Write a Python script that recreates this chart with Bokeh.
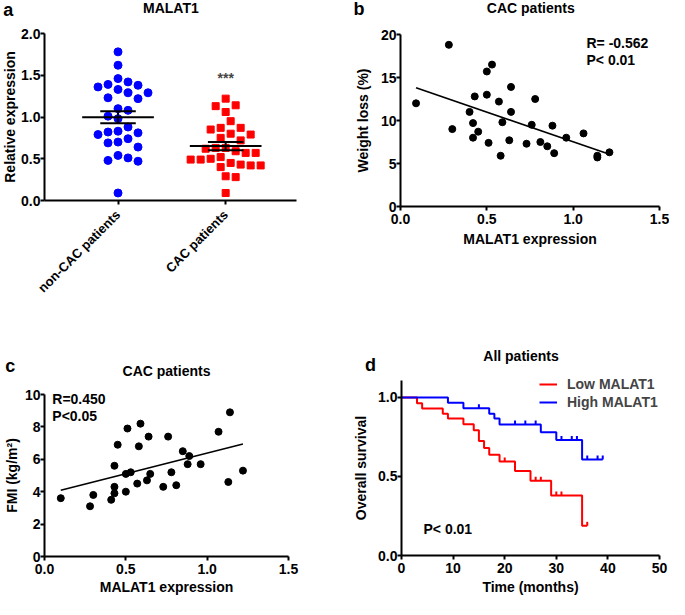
import numpy as np
from bokeh.plotting import figure
from bokeh.models import Range1d, FixedTicker, NumeralTickFormatter, Label, Legend, LegendItem
from bokeh.layouts import row, column
from bokeh.embed import file_html
from bokeh.resources import INLINE

FONT = "Liberation Sans"

# ---------------- data ----------------
groups = ["non-CAC patients", "CAC patients"]
non_cac_expr = [1.78, 1.62, 1.46, 1.42, 1.39, 1.38, 1.36, 1.33, 1.29, 1.29, 1.23, 1.22, 1.10, 1.08, 1.01,
                0.98, 0.88, 0.83, 0.82, 0.81, 0.79, 0.74, 0.70, 0.69, 0.64, 0.54, 0.51, 0.48, 0.47, 0.09]
cac_expr = [1.22, 1.14, 1.13, 1.06, 0.95, 0.87, 0.87, 0.85, 0.80, 0.79, 0.75, 0.72, 0.63, 0.63, 0.62,
            0.59, 0.57, 0.57, 0.52, 0.50, 0.49, 0.49, 0.45, 0.43, 0.42, 0.42, 0.40, 0.29, 0.28, 0.09]

b_expr = [0.09, 0.28, 0.30, 0.40, 0.43, 0.42, 0.42, 0.45, 0.50, 0.53, 0.50, 0.51, 0.57, 0.59, 0.58,
          0.64, 0.64, 0.63, 0.73, 0.76, 0.78, 0.81, 0.85, 0.88, 0.89, 0.96, 1.06, 1.14, 1.14, 1.21]
b_weight_loss = [12.0, 18.8, 9.0, 11.0, 12.8, 9.7, 8.0, 8.7, 15.7, 16.5, 13.0, 7.4, 12.2, 9.8, 5.9,
                 11.0, 13.9, 7.7, 7.3, 9.5, 12.5, 7.5, 7.0, 9.4, 6.2, 8.0, 8.5, 5.7, 5.9, 6.3]

c_expr = [0.10, 0.28, 0.30, 0.41, 0.43, 0.43, 0.43, 0.45, 0.50, 0.50, 0.51, 0.53, 0.57, 0.58, 0.59,
          0.63, 0.64, 0.65, 0.73, 0.76, 0.78, 0.81, 0.85, 0.88, 0.89, 0.96, 1.07, 1.13, 1.14, 1.22]
c_fmi = [3.6, 3.1, 3.8, 3.5, 4.3, 3.9, 5.6, 6.9, 5.1, 4.0, 7.9, 5.2, 4.5, 6.8, 8.2,
         4.7, 7.4, 5.1, 4.3, 7.4, 5.2, 4.4, 6.5, 5.7, 6.2, 5.7, 7.7, 4.6, 8.9, 5.3]

low_time = [0, 3, 4, 8, 9, 12, 14, 15, 16, 17, 19, 22, 25, 29, 35, 36]
low_surv = [1.0, 0.963, 0.930, 0.897, 0.866, 0.830, 0.793, 0.725, 0.680, 0.638, 0.595, 0.535, 0.473,
            0.380, 0.188, 0.188]
low_censor = [20, 26, 27, 30, 31, 36]
high_time = [0, 9, 12, 17, 18, 19, 27, 30, 35, 39]
high_surv = [1.0, 0.967, 0.932, 0.897, 0.866, 0.829, 0.780, 0.731, 0.607, 0.607]
high_censor = [15, 22, 24, 26, 31, 33, 34, 36, 38, 39]

BLUE = "#0000FF"
RED = "#FF0000"
FS = "14px"


# ---------------- helpers ----------------
def make_fig(w, h, left, right, top, bottom, xr, yr):
    """Frame covers the whole canvas; axes are pinned at the data origin
    (fixed_location) and bounded to the data range."""
    fw = w - left - right
    fh = h - top - bottom
    ux = (xr[1] - xr[0]) / fw
    uy = (yr[1] - yr[0]) / fh
    X = (xr[0] - left * ux, xr[1] + right * ux)
    Y = (yr[0] - bottom * uy, yr[1] + top * uy)
    p = figure(width=w, height=h, x_range=Range1d(*X), y_range=Range1d(*Y),
               output_backend="svg", toolbar_location=None, title=None,
               min_border=0, min_border_left=0, min_border_right=0,
               min_border_top=0, min_border_bottom=0)
    p.outline_line_color = None
    p.grid.visible = False
    p.background_fill_color = "white"
    p.border_fill_color = "white"
    p.xaxis.fixed_location = yr[0]
    p.xaxis.bounds = xr
    p.yaxis.fixed_location = xr[0]
    p.yaxis.bounds = yr
    for ax in p.axis:
        ax.axis_line_width = 2
        ax.axis_line_color = "black"
        ax.major_tick_line_width = 2
        ax.major_tick_line_color = "black"
        ax.major_tick_out = 4
        ax.major_tick_in = 0
        ax.minor_tick_out = 0
        ax.minor_tick_in = 0
        ax.major_label_text_font = FONT
        ax.major_label_text_font_style = "bold"
        ax.major_label_text_font_size = FS
        ax.major_label_text_color = "black"
        ax.axis_label_text_font = FONT
        ax.axis_label_text_font_style = "bold"
        ax.axis_label_text_font_size = FS
        ax.axis_label_text_color = "black"
    p.yaxis.major_label_standoff = 0
    p.xaxis.major_label_standoff = 3
    geom = dict(fw=w, fh=h, x0=X[0], x1=X[1], y0=Y[0], y1=Y[1])
    return p, geom


def put(p, g, fx, fy, text, size=FS, align="center", baseline="middle"):
    x = g["x0"] + fx / g["fw"] * (g["x1"] - g["x0"])
    y = g["y0"] + (g["fh"] - fy) / g["fh"] * (g["y1"] - g["y0"])
    p.add_layout(Label(x=x, y=y, text=text, text_font=FONT, text_font_style="bold",
                       text_font_size=size, text_align=align, text_baseline=baseline,
                       text_color="black"))


def swarm(vals, px_x, px_y, diam=10.0, step=5.0):
    """Simple bee-swarm: horizontal offsets (data units) that keep dots apart."""
    vals = np.asarray(vals, dtype=float)
    order = np.argsort(-vals, kind="stable")
    placed = []
    offs = np.zeros(len(vals))
    cands = [0.0]
    for j in range(1, 30):
        cands += [j * step, -j * step]
    for i in order:
        y = vals[i] * px_y
        for c in cands:
            if all((c - qx) ** 2 + (y - qy) ** 2 >= diam ** 2 for qx, qy in placed):
                offs[i] = c
                placed.append((c, y))
                break
    return offs / px_x


TOP_H = 303
BOT_H = 296

# ---------------- panel a ----------------
A_W, A_LEFT, A_RIGHT, A_TOP, A_FH = 332, 44, 36, 33, 167
A_XR = (0.317, 2.658)
A_YR = (0.0, 2.0)
pa, ga = make_fig(A_W, TOP_H, A_LEFT, A_RIGHT, A_TOP, TOP_H - A_TOP - A_FH, A_XR, A_YR)
pa.xaxis.ticker = FixedTicker(ticks=[1, 2])
pa.xaxis.major_label_overrides = {1: groups[0], 2: groups[1]}
pa.xaxis.major_label_orientation = np.pi / 4
pa.xaxis.major_label_standoff = 8
pa.xaxis.major_label_text_font_size = "13px"
pa.yaxis.ticker = FixedTicker(ticks=[0, 0.5, 1.0, 1.5, 2.0])
pa.yaxis.formatter = NumeralTickFormatter(format="0.0")
pa.yaxis.axis_label = "Relative expression"
pa.yaxis.axis_label_standoff = 0

pxx = (A_W - A_LEFT - A_RIGHT) / (A_XR[1] - A_XR[0])
pxy = A_FH / (A_YR[1] - A_YR[0])
for i, (vals, marker, col, sz) in enumerate([(non_cac_expr, "circle", BLUE, 8),
                                             (cac_expr, "square", RED, 7)]):
    cx = i + 1
    xs = cx + swarm(vals, pxx, pxy)
    pa.scatter(xs, vals, marker=marker, size=sz, color=col)
    v = np.asarray(vals)
    m = v.mean()
    se = v.std(ddof=1) / np.sqrt(len(v))
    pa.segment(cx - 0.333, m, cx + 0.333, m, line_width=2, color="black")
    pa.segment(cx, m - se, cx, m + se, line_width=2, color="black")
    pa.segment(cx - 0.165, m + se, cx + 0.165, m + se, line_width=2, color="black")
    pa.segment(cx - 0.165, m - se, cx + 0.165, m - se, line_width=2, color="black")

pa.add_layout(Label(x=2, y=1.47, text="***", text_font=FONT, text_font_style="bold",
                    text_font_size=FS, text_align="center", text_baseline="middle"))
put(pa, ga, 7.8, 9.7, "a", size="18px")
put(pa, ga, 170.4, 7.3, "MALAT1")

# ---------------- panel b ----------------
pb, gb = make_fig(337, TOP_H, 68, 10, 34, TOP_H - 34 - 172, (0.0, 1.5), (0.0, 20.0))
pb.xaxis.ticker = FixedTicker(ticks=[0, 0.5, 1.0, 1.5])
pb.xaxis.formatter = NumeralTickFormatter(format="0.0")
pb.yaxis.ticker = FixedTicker(ticks=[0, 5, 10, 15, 20])
pb.xaxis.axis_label = "MALAT1 expression"
pb.yaxis.axis_label = "Weight loss (%)"
pb.xaxis.axis_label_standoff = 4
pb.yaxis.axis_label_standoff = 7
pb.scatter(b_expr, b_weight_loss, size=7, color="black")
k, b0 = np.polyfit(b_expr, b_weight_loss, 1)
lx = np.array([min(b_expr), max(b_expr)])
pb.line(lx, k * lx + b0, line_width=1.6, color="black")
put(pb, gb, 26.4, 8.8, "b", size="18px")
put(pb, gb, 198.3, 7.8, "CAC patients")
put(pb, gb, 254, 42.9, "R= -0.562", align="left")
put(pb, gb, 254, 59.4, "P< 0.01", align="left")

# ---------------- panel c ----------------
pc, gc = make_fig(332, BOT_H, 44, 44, 91, 43, (0.0, 1.5), (0.0, 10.0))
pc.xaxis.ticker = FixedTicker(ticks=[0, 0.5, 1.0, 1.5])
pc.xaxis.formatter = NumeralTickFormatter(format="0.0")
pc.yaxis.ticker = FixedTicker(ticks=[0, 2, 4, 6, 8, 10])
pc.xaxis.axis_label = "MALAT1 expression"
pc.yaxis.axis_label = "FMI (kg/m²)"
pc.xaxis.axis_label_standoff = 2
pc.yaxis.axis_label_standoff = 2
pc.scatter(c_expr, c_fmi, size=7, color="black")
k, b0 = np.polyfit(c_expr, c_fmi, 1)
lx = np.array([min(c_expr), max(c_expr)])
pc.line(lx, k * lx + b0, line_width=1.6, color="black")
put(pc, gc, 9.8, 62.3, "c", size="18px")
put(pc, gc, 166, 67, "CAC patients")
put(pc, gc, 51.8, 95.4, "R=0.450", align="left")
put(pc, gc, 51.8, 112, "P<0.05", align="left")

# ---------------- panel d ----------------
pd_, gd = make_fig(337, BOT_H, 69, 10, 77, 44, (0.0, 50.0), (0.0, 1.107))
pd_.xaxis.ticker = FixedTicker(ticks=[0, 10, 20, 30, 40, 50])
pd_.yaxis.ticker = FixedTicker(ticks=[0, 0.5, 1.0])
pd_.yaxis.formatter = NumeralTickFormatter(format="0.0")
pd_.xaxis.axis_label = "Time (months)"
pd_.yaxis.axis_label = "Overall survival"
pd_.xaxis.axis_label_standoff = 3
pd_.yaxis.axis_label_standoff = 6

tick_h = 0.025
renderers = []
for t, s, cens, col in [(low_time, low_surv, low_censor, RED), (high_time, high_surv, high_censor, BLUE)]:
    r = pd_.step(t, s, mode="after", line_width=2, color=col)
    renderers.append(r)
    t_arr = np.asarray(t)
    s_arr = np.asarray(s)
    cy = np.array([s_arr[np.searchsorted(t_arr, c, side="right") - 1] for c in cens])
    pd_.segment(cens, cy, cens, cy + tick_h, line_width=2, color=col)

legend = Legend(items=[LegendItem(label="Low MALAT1", renderers=[renderers[0]]),
                       LegendItem(label="High MALAT1", renderers=[renderers[1]])],
                location=(207, 189), glyph_width=18, glyph_height=14, label_height=14,
                label_standoff=10, spacing=2, padding=0, margin=0,
                border_line_color=None, background_fill_alpha=0,
                label_text_font=FONT, label_text_font_style="bold", label_text_font_size=FS)
pd_.add_layout(legend)
put(pd_, gd, 38.1, 61.3, "d", size="18px")
put(pd_, gd, 188.5, 52.5, "All patients")
put(pd_, gd, 91, 225.4, "P< 0.01", align="left")

layout = column(row(pa, pb), row(pc, pd_))
open("out.html", "w").write(file_html(layout, INLINE))
